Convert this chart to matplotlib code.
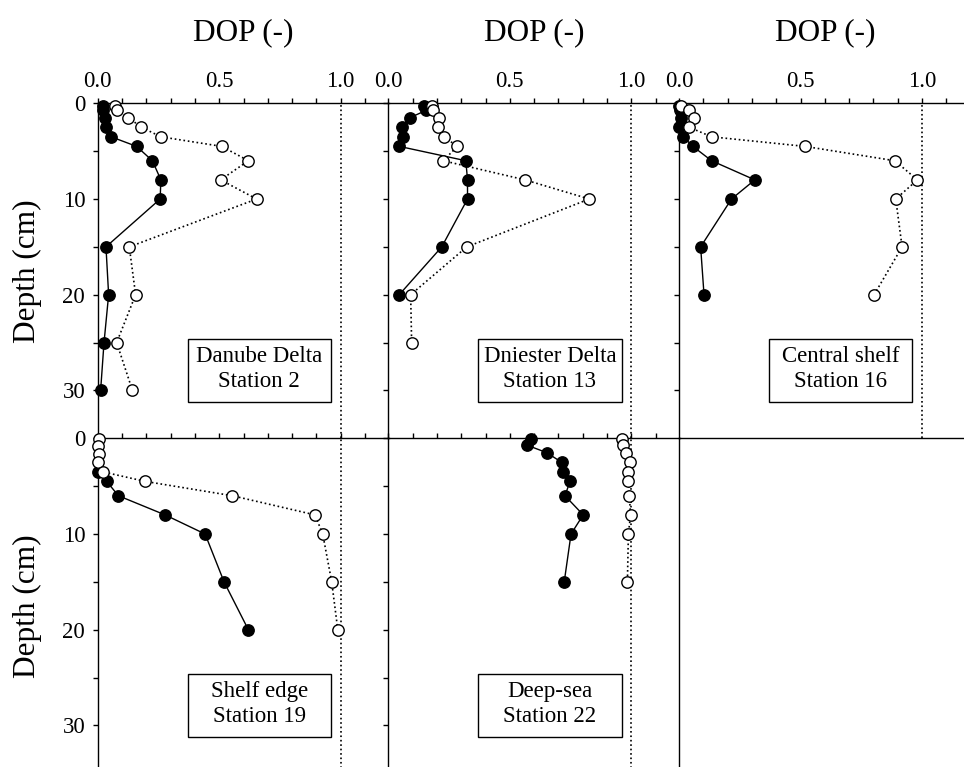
import numpy as np
import matplotlib.pyplot as plt
from matplotlib.patches import Rectangle

plt.rcParams['font.family'] = ['Liberation Serif', 'DejaVu Serif']

# depth (cm) and degree of pyritization (DOP) per station
names = ["Danube Delta\nStation 2", "Dniester Delta\nStation 13", "Central shelf\nStation 16",
         "Shelf edge\nStation 19", "Deep-sea\nStation 22"]

depth_st2 = [0.25, 0.75, 1.5, 2.5, 3.5, 4.5, 6, 8, 10, 15, 20, 25, 30]
closed_st2 = [0.02, 0.023, 0.028, 0.034, 0.055, 0.16, 0.225, 0.26, 0.257, 0.034, 0.045, 0.026, 0.012]
open_st2 = [0.071, 0.078, 0.126, 0.18, 0.26, 0.51, 0.62, 0.506, 0.654, 0.13, 0.156, 0.078, 0.143]

depth_st13_closed = [0.25, 0.75, 1.5, 2.5, 3.5, 4.5, 6, 8, 10, 15, 20]
closed_st13 = [0.147, 0.155, 0.089, 0.055, 0.062, 0.045, 0.319, 0.326, 0.326, 0.22, 0.045]
depth_st13_open = [0.25, 0.75, 1.5, 2.5, 3.5, 4.5, 6, 8, 10, 15, 20, 25]
open_st13 = [0.178, 0.182, 0.209, 0.204, 0.229, 0.284, 0.226, 0.563, 0.827, 0.323, 0.092, 0.096]

depth_st16 = [0.25, 0.75, 1.5, 2.5, 3.5, 4.5, 6, 8, 10, 15, 20]
closed_st16 = [0.0, 0.005, 0.01, 0.002, 0.018, 0.057, 0.134, 0.312, 0.216, 0.089, 0.103]
open_st16 = [0.01, 0.04, 0.06, 0.042, 0.134, 0.518, 0.888, 0.981, 0.892, 0.918, 0.803]

depth_st19_closed = [3.5, 4.5, 6, 8, 10, 15, 20]
closed_st19 = [0.0, 0.037, 0.085, 0.277, 0.442, 0.52, 0.62]
depth_st19_open = [0.1, 0.8, 1.6, 2.5, 3.5, 4.5, 6, 8, 10, 15, 20]
open_st19 = [0.007, 0.003, 0.007, 0.003, 0.02, 0.195, 0.554, 0.894, 0.926, 0.963, 0.988]

depth_st22 = [0.1, 0.7, 1.5, 2.5, 3.5, 4.5, 6, 8, 10, 15]
closed_st22 = [0.586, 0.569, 0.652, 0.713, 0.717, 0.748, 0.727, 0.802, 0.752, 0.724]
open_st22 = [0.963, 0.967, 0.978, 0.995, 0.988, 0.988, 0.992, 0.997, 0.988, 0.984]

panels = [
    (depth_st2, closed_st2, depth_st2, open_st2),
    (depth_st13_closed, closed_st13, depth_st13_open, open_st13),
    (depth_st16, closed_st16, depth_st16, open_st16),
    (depth_st19_closed, closed_st19, depth_st19_open, open_st19),
    (depth_st22, closed_st22, depth_st22, open_st22),
]

W, H = 964, 767
fig = plt.figure(figsize=(W / 100, H / 100), dpi=100)

lefts = [97.7, 388.3, 679]
tops = [103.3, 438.3]
aw, ah = 291.6, 335


def make_ax(left, top):
    return fig.add_axes([left / W, 1 - (top + ah) / H, aw / W, ah / H])


axes = []
for r in range(2):
    for c in range(3):
        ax = make_ax(lefts[c], tops[r])
        ax.set_xlim(0, 1.2)
        ax.set_ylim(35, 0)
        ax.patch.set_alpha(0)
        ax.spines['right'].set_visible(False)
        ax.spines['bottom'].set_visible(False)
        for s in ['left', 'top']:
            ax.spines[s].set_linewidth(1)
        axes.append(ax)

for i, ax in enumerate(axes):
    r, c = divmod(i, 3)
    if i == 5:
        ax.set_xticks([])
        ax.set_yticks([])
        continue
    ax.xaxis.tick_top()
    ax.set_xticks([0, 0.5, 1.0])
    ax.set_xticks(np.arange(0.1, 1.15, 0.1), minor=True)
    ax.set_yticks(np.arange(0, 35, 5))
    ax.tick_params(axis='x', which='both', direction='out', length=3.5, width=1,
                   top=True, bottom=False, labeltop=(r == 0), labelbottom=False,
                   labelsize=16.5, pad=4.5)
    ax.tick_params(axis='y', direction='out', length=3.5, width=1,
                   labelleft=(c == 0), labelsize=16.5, pad=5.5)
    ax.set_xticklabels(['0.0', '0.5', '1.0'])
    ax.set_yticklabels(['0', '', '10', '', '20', '', '30'])
    if r == 0:
        ax.xaxis.set_label_position('top')
        ax.set_xlabel('DOP (-)', fontsize=22.5, labelpad=22)
    if c == 0:
        ax.set_ylabel('Depth (cm)', fontsize=22.5, labelpad=15)

    dc, vc, do, vo = panels[i]
    ax.axvline(1.0, color='black', linestyle=':', linewidth=1.2, zorder=1)
    ax.plot(vc, dc, '-', color='black', linewidth=1, marker='o', markersize=8.2,
            markerfacecolor='black', markeredgecolor='black', zorder=3, clip_on=False)
    ax.plot(vo, do, ':', color='black', linewidth=1.2, marker='o', markersize=8.2,
            markerfacecolor='white', markeredgecolor='black', markeredgewidth=1,
            zorder=4, clip_on=False)

    ax.add_patch(Rectangle((0.37, 24.65), 0.59, 6.55, facecolor='white',
                           edgecolor='black', linewidth=1, zorder=5))
    ax.text(0.665, 27.75, names[i], ha='center', va='center', fontsize=16.5,
            linespacing=1.25, zorder=6)

fig.savefig('out.png', dpi=100)
